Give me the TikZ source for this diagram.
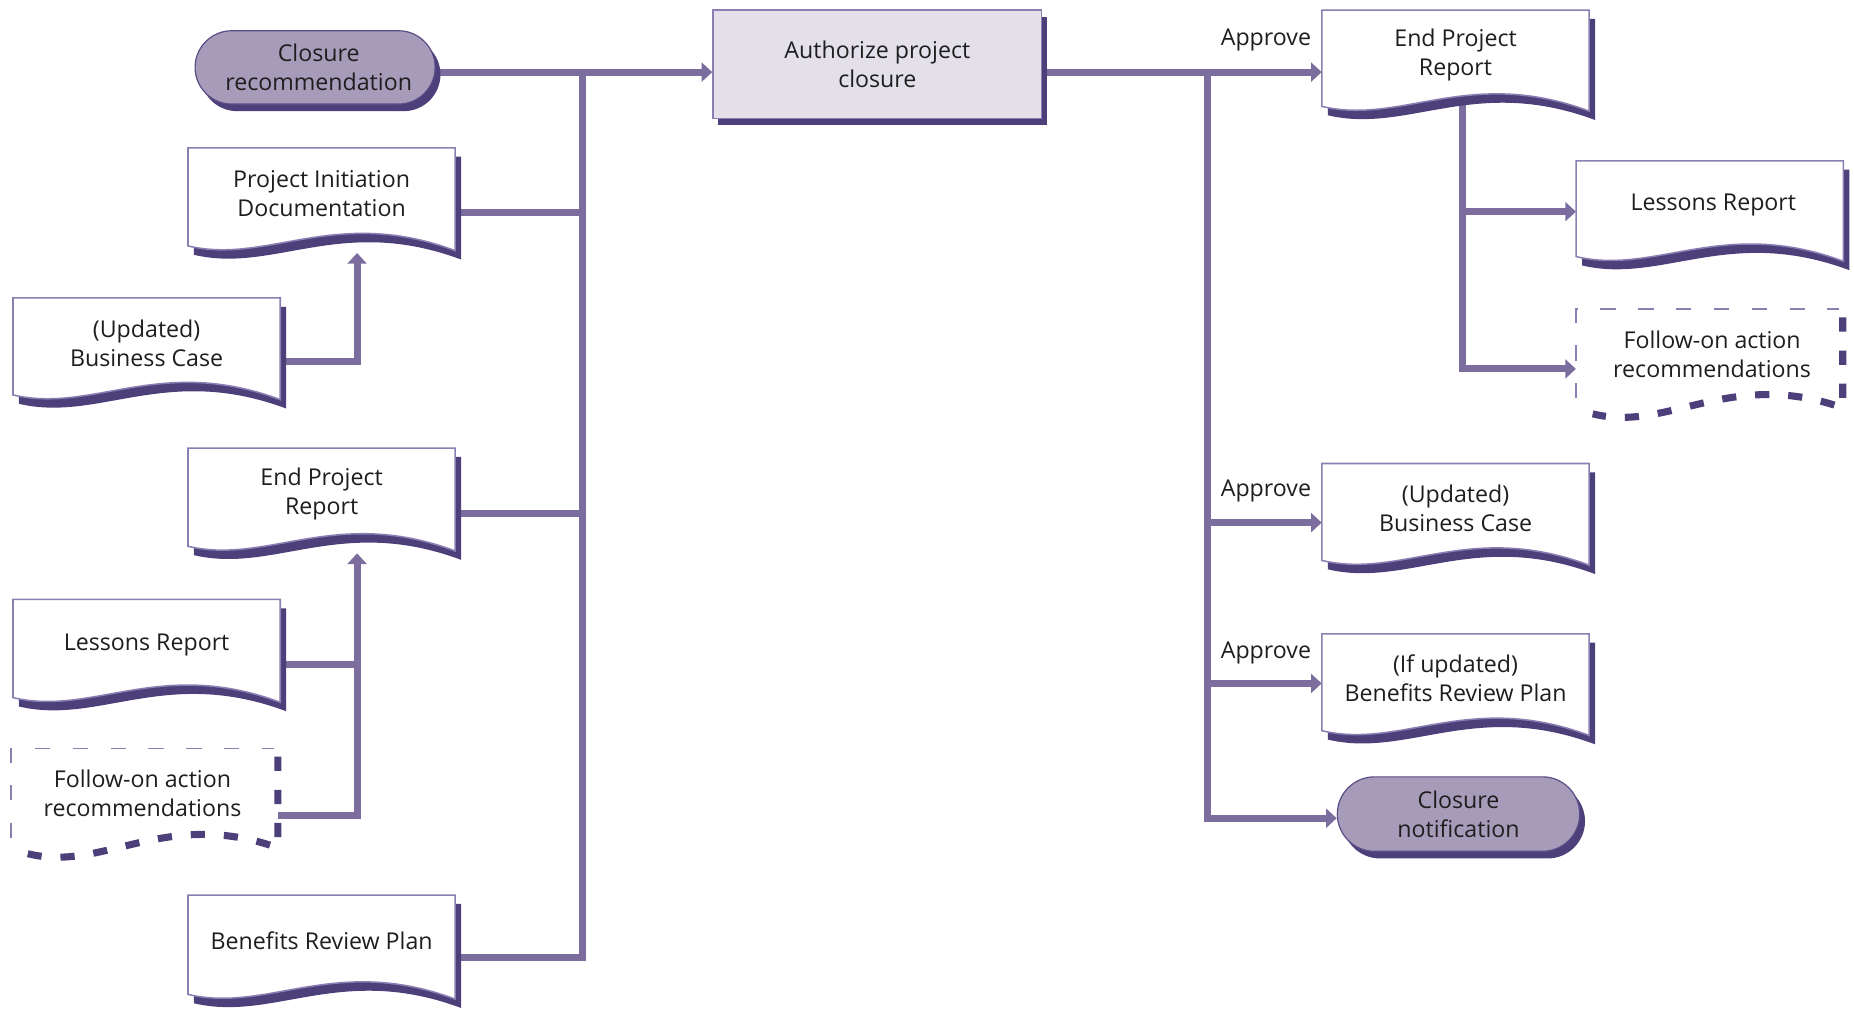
\documentclass[tikz,border=0pt]{standalone}
\usepackage{fontspec}
\setmainfont{Open Sans}
\usetikzlibrary{arrows.meta,shapes.misc,shadows}

\definecolor{lineC}{HTML}{7B6D9D}
\definecolor{shadowC}{HTML}{4D3F7A}
\definecolor{edgeC}{HTML}{8A7FB2}
\definecolor{pillC}{HTML}{A79BBA}
\definecolor{pillEdge}{HTML}{5A4C86}
\definecolor{boxC}{HTML}{E4E0EA}
\definecolor{txtC}{HTML}{1E1E1E}

\pgfdeclarelayer{bg}
\pgfsetlayers{bg,main}

\tikzset{
  conn/.style={draw=lineC, line width=6pt},
  arr/.style={conn, -{Triangle[length=9pt,width=16pt]}},
  lbl/.style={font=\fontsize{19.6}{24.5}\selectfont, text=txtC, align=center, inner sep=0pt},
  darkshadow/.style={drop shadow={shadow xshift=4.5pt, shadow yshift=-6pt, fill=shadowC, opacity=1}},
  pill/.style={lbl, rounded rectangle, draw=pillEdge, line width=1pt, fill=pillC, darkshadow},
  procbox/.style={lbl, rectangle, draw=edgeC, line width=1.2pt, fill=boxC, darkshadow},
  docedge/.style={draw=edgeC, line width=1.3pt, fill=white},
  thindash/.style={draw=edgeC, line width=1.6pt, dash pattern=on 13pt off 19pt},
  thickdash/.style={draw=shadowC, line width=6pt, dash pattern=on 12pt off 16pt},
}

% document with a wavy lower edge: name, x1, top, x2, lower left corner, text
\newcommand\solidDoc[6]{%
  \begin{scope}[shift={(5,7.5)}]
    \fill[shadowC] (#2,#3) -- (#4,#3) -- (#4,{#5+4})
      .. controls ({#2+0.55*(#4-#2)},{#5-34}) and ({#2+0.3*(#4-#2)},{#5+16}) .. (#2,#5) -- cycle;
  \end{scope}
  \draw[docedge] (#2,#3) -- (#4,#3) -- (#4,{#5+4})
    .. controls ({#2+0.55*(#4-#2)},{#5-34}) and ({#2+0.3*(#4-#2)},{#5+16}) .. (#2,#5) -- cycle;
  \node[lbl, minimum width={(#4-#2)*1pt}, minimum height={(#5-#3)*1pt}]
    (#1) at ({(#2+#4)/2},{(#3+#5)/2-3}) {#6};
}

% dashed document (optional output)
\newcommand\dashDoc[6]{%
  \draw[thindash] (#2,#5) -- (#2,#3) -- (#4,#3);
  \draw[thickdash] ({#4+3.5},{#3+7}) -- ({#4+3.5},{#5+8})
    .. controls ({#2+14+0.55*(#4-#2-10.5)},{#5-26}) and ({#2+14+0.3*(#4-#2-10.5)},{#5+29})
    .. ({#2+14},{#5+13});
  \node[lbl, minimum width={(#4-#2)*1pt}, minimum height={(#5-#3)*1pt}]
    (#1) at ({(#2+#4)/2},{(#3+#5)/2}) {#6};
}

\begin{document}
\begin{tikzpicture}[x=1pt, y=-1pt]
\useasboundingbox (0,0) rectangle (1568,853);

% ---- inputs (left) ----
\node[pill, minimum width=203pt, minimum height=62pt] (crec) at (266.5,57) {\hspace*{6pt}Closure\\\hspace*{6pt}recommendation};

\solidDoc{pid}{159}{125}{385}{208}{Project Initiation\\Documentation}
\solidDoc{bcL}{11}{252}{237}{334}{(Updated)\\Business Case}
\solidDoc{eprL}{159}{379}{385}{462}{End Project\\Report}
\solidDoc{lrL}{11}{507}{237}{590}{Lessons Report}
\dashDoc{foL}{9.5}{633}{231.5}{709}{Follow-on action\\recommendations}
\solidDoc{brpL}{159}{757}{385}{841}{Benefits Review Plan}

% ---- activity ----
\node[procbox, minimum width=278pt, minimum height=91.5pt] (auth) at (742,54.25) {Authorize project\\closure};

% ---- outputs (right) ----
\solidDoc{eprR}{1118}{8.5}{1344}{90}{End Project\\Report}
\solidDoc{lrR}{1333}{136}{1559}{217}{\hspace*{6pt}Lessons Report}
\dashDoc{foR}{1333}{261.5}{1555}{337}{\hspace*{8pt}Follow-on action\\\hspace*{8pt}recommendations}
\solidDoc{bcR}{1118}{392}{1344}{474}{(Updated)\\Business Case}
\solidDoc{brpR}{1118}{536}{1344}{618}{(If updated)\\Benefits Review Plan}
\node[pill, minimum width=205pt, minimum height=63pt] (cnot) at (1233.5,688.5) {Closure\\notification};

\node[lbl, anchor=east] (ap1) at (1109,34) {Approve};
\node[lbl, anchor=east] (ap2) at (1109,415) {Approve};
\node[lbl, anchor=east] (ap3) at (1109,552) {Approve};

% junction points of the connector trunks
\coordinate (ltop) at (493,61);
\coordinate (lbot) at (493,810);
\coordinate (pidIn) at (302,214);
\coordinate (eprIn) at (302,468);
\coordinate (rtop) at (1021,61);
\coordinate (rbot) at (1021,692);
\coordinate (ebot) at (1237,312);

\begin{pgfonlayer}{bg}
  % left side
  \draw[arr] ([yshift=-4pt]crec.east) -- ([yshift=-6.75pt]auth.west);
  \draw[conn] ([yshift=-14pt]brpL.east) -- (lbot) -- (ltop);
  \draw[conn] ([yshift=-16.5pt]pid.east) -- ([yshift=-16.5pt]pid.east -| ltop);
  \draw[conn] ([yshift=-16.5pt]eprL.east) -- ([yshift=-16.5pt]eprL.east -| ltop);
  \draw[arr] ([yshift=-16pt]bcL.east) -| (pidIn);
  \draw[conn] ([yshift=-16.5pt]lrL.east) -- ([yshift=-16.5pt]lrL.east -| eprIn);
  \draw[arr] ([yshift=-19pt,xshift=3pt]foL.east) -| (eprIn);
  % right side
  \draw[arr] ([yshift=-6.75pt]auth.east) -- ([yshift=-14.75pt]eprR.west);
  \draw[arr] (rtop) -- (rbot) -- (rbot -| cnot.west);
  \draw[arr] ([yshift=-12pt]bcR.west -| rtop) -- ([yshift=-12pt]bcR.west);
  \draw[arr] ([yshift=-4pt]brpR.west -| rtop) -- ([yshift=-4pt]brpR.west);
  \draw[arr] ([xshift=6pt]eprR.center) -- (ebot) -- (ebot -| foR.west);
  \draw[arr] ([yshift=-5.5pt]lrR.west -| ebot) -- ([yshift=-5.5pt]lrR.west);
\end{pgfonlayer}
\end{tikzpicture}
\end{document}
